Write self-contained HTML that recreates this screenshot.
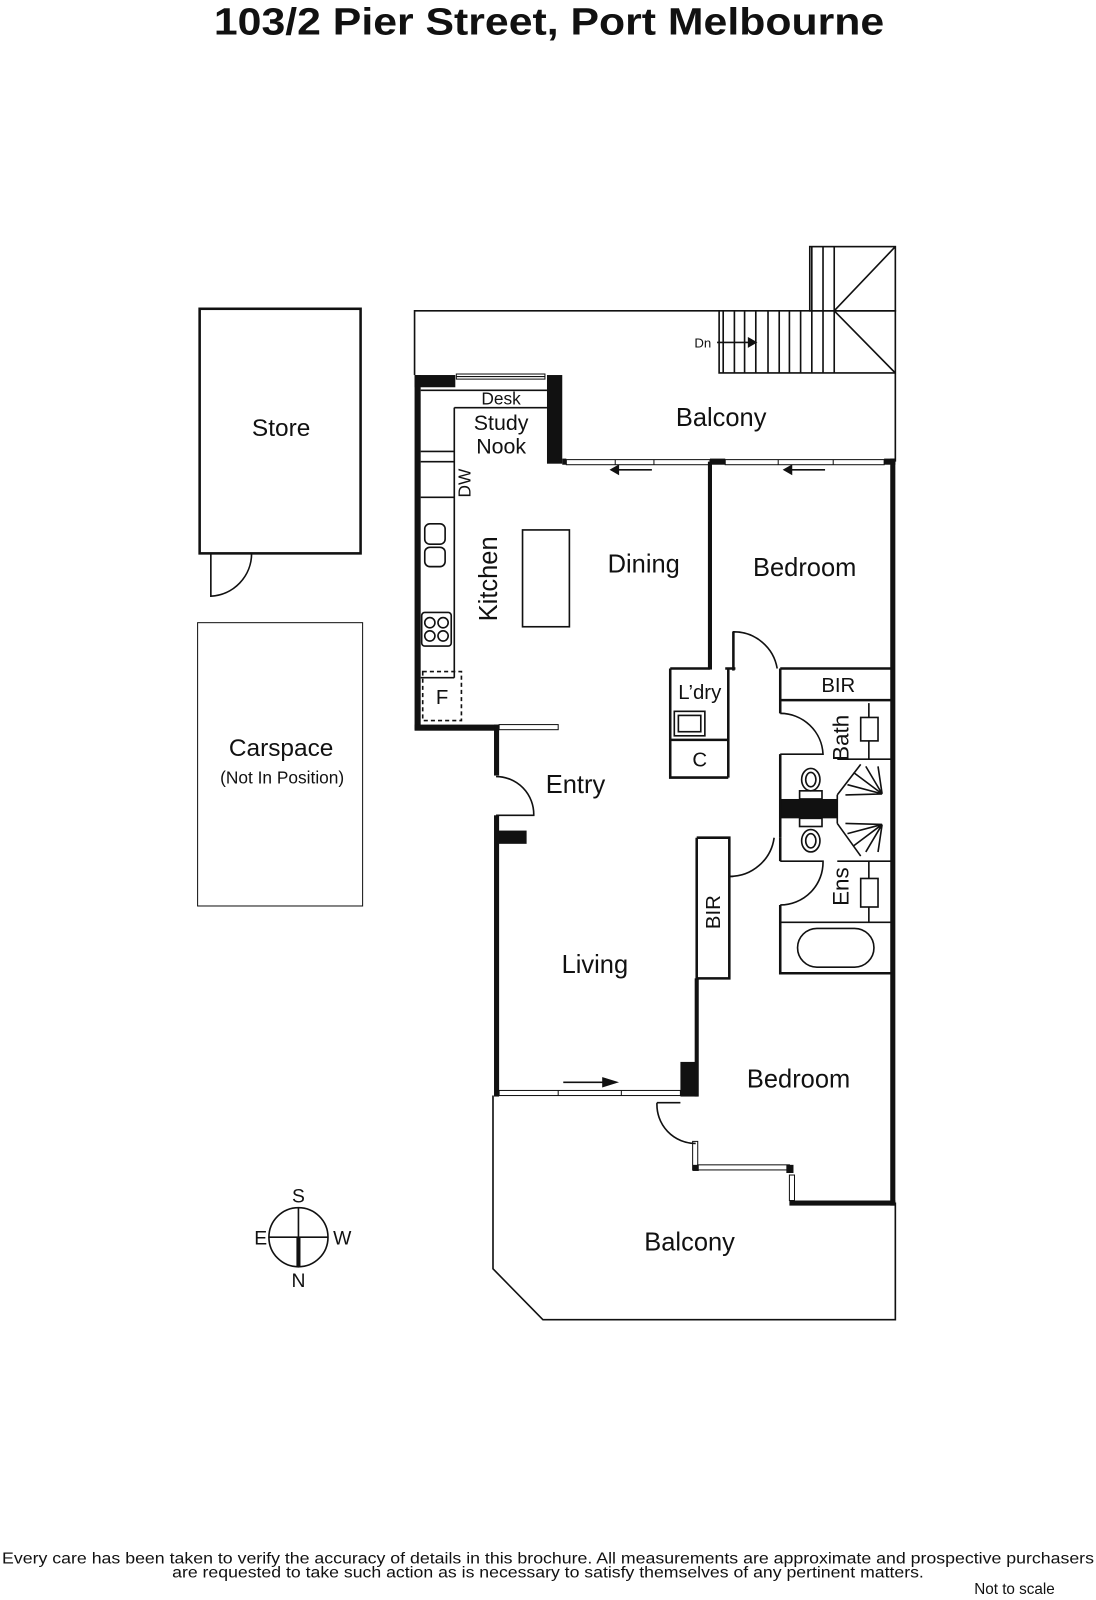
<!DOCTYPE html>
<html><head><meta charset="utf-8"><style>
html,body{margin:0;padding:0;background:#fff;}
svg{display:block;}
text{font-family:"Liberation Sans",sans-serif;fill:#111;}
</style></head><body>
<svg width="1096" height="1600" viewBox="0 0 1076 1570" preserveAspectRatio="none" xmlns="http://www.w3.org/2000/svg">
<g fill="none" stroke="#111" stroke-width="1.6">
<text x="539" y="34" font-size="37" text-anchor="middle" font-weight="bold" stroke="none" textLength="658" lengthAdjust="spacingAndGlyphs">103/2 Pier Street, Port Melbourne</text>

<!-- Store -->
<rect x="196" y="303" width="158" height="240" stroke-width="2.5"/>
<path d="M207 543 V585 A42 42 0 0 0 247 543"/>
<text x="276" y="428" font-size="24" text-anchor="middle" stroke="none">Store</text>
<!-- Carspace -->
<rect x="194" y="611" width="162" height="278" stroke-width="1"/>
<text x="276" y="742" font-size="24" text-anchor="middle" stroke="none">Carspace</text>
<text x="277" y="769" font-size="17" text-anchor="middle" stroke="none">(Not In Position)</text>

<!-- top balcony & stairs -->
<path d="M407 368 V305 H879 V453"/>
<rect x="795" y="242" width="84" height="63"/>
<path d="M706 305 V366 H879"/>
<path d="M710 305V366M721 305V366M731 305V366M742 305V366M754 305V366M765 305V366M775 305V366M786 305V366M797 242V366M808 242V366M819 242V366"/>
<path d="M819 305 L879 242 M819 305 L879 366"/>
<text x="690" y="341" font-size="13" text-anchor="middle" stroke="none">Dn</text>
<path d="M704 336 H735"/><path d="M735 332 L742 336 L735 340Z" fill="#111"/>
<text x="708" y="418" font-size="25" text-anchor="middle" stroke="none">Balcony</text>

<!-- thick walls -->
<g fill="#111" stroke="none">
<rect x="407" y="368" width="40" height="12"/>
<rect x="407" y="368" width="6" height="348"/>
<rect x="537" y="368" width="15" height="87"/>
<rect x="552" y="450" width="4" height="6"/>
<rect x="697" y="450" width="15" height="6"/>
<rect x="868" y="450" width="11" height="6"/>
<rect x="874" y="450" width="5" height="733"/>
<rect x="407" y="711" width="83" height="6"/>
<rect x="485" y="711" width="5" height="50"/>
<rect x="485" y="800" width="5" height="276"/>
<rect x="487" y="815" width="30" height="13"/>
<rect x="668" y="1042" width="17" height="34"/>
<rect x="682" y="960" width="4" height="116"/>
<rect x="775" y="1178" width="104" height="5"/>
<rect x="766" y="784" width="56" height="19"/>
<rect x="695" y="453" width="4" height="204"/>
</g>
<!-- windows -->
<g stroke-width="1"><rect x="448" y="367" width="87" height="5"/><path d="M448 369.5H535"/>
<rect x="556" y="451" width="141" height="5"/><path d="M604 451V456M642 451V456"/>
<rect x="712" y="451" width="156" height="5"/><path d="M764 451V456M818 451V456"/>
<rect x="490" y="711" width="58" height="5"/>
<rect x="490" y="1070" width="178" height="5"/><path d="M548 1070V1075M610 1070V1075"/>
<rect x="680" y="1120" width="5" height="28"/><rect x="685" y="1143" width="90" height="5"/>
<rect x="775" y="1153" width="5" height="25"/>
</g>
<path d="M600 461 H640"/><path d="M607 457 L600 461 L607 465Z" fill="#111"/>
<path d="M770 461 H810"/><path d="M777 457 L770 461 L777 465Z" fill="#111"/>
<path d="M553 1062 H598"/><path d="M592 1058 L605 1062 L592 1066Z" fill="#111"/>
<rect x="680" y="1143" width="6" height="6" fill="#111" stroke="none"/>
<rect x="772" y="1143" width="7" height="8" fill="#111" stroke="none"/>

<!-- desk & kitchen -->
<path d="M413 383 H537 M446 400 H537 M446 400 V665 M413 443 H446 M413 453 H446 M413 488 H446 M413 665 H446"/>
<text x="492" y="397" font-size="17" text-anchor="middle" stroke="none">Desk</text>
<text x="492" y="422" font-size="21" text-anchor="middle" stroke="none">Study</text>
<text x="492" y="445" font-size="21" text-anchor="middle" stroke="none">Nook</text>
<text transform="translate(462,474) rotate(-90)" font-size="17" text-anchor="middle" stroke="none">DW</text>
<rect x="417" y="514" width="20" height="20" rx="5"/><rect x="417" y="537" width="20" height="19" rx="5"/>
<rect x="414" y="601" width="29" height="33" rx="3"/>
<circle cx="422" cy="611" r="5"/><circle cx="435" cy="611" r="5"/><circle cx="422" cy="624" r="5"/><circle cx="435" cy="624" r="5"/>
<rect x="415" y="659" width="38" height="48" stroke-dasharray="4,3"/>
<text x="434" y="691" font-size="20" text-anchor="middle" stroke="none">F</text>
<text transform="translate(488,568) rotate(-90)" font-size="25" text-anchor="middle" stroke="none">Kitchen</text>
<rect x="513" y="520" width="46" height="95"/>
<text x="632" y="562" font-size="25" text-anchor="middle" stroke="none">Dining</text>
<text x="790" y="565" font-size="25" text-anchor="middle" stroke="none">Bedroom</text>

<!-- entry door -->
<path d="M487 762 A37 37 0 0 1 524 800 H487"/>
<text x="565" y="778" font-size="25" text-anchor="middle" stroke="none">Entry</text>

<!-- laundry -->
<path d="M658 656 H697 M658 656 V763 H715 M715 656 V763 M658 726 H715 M712 656 H722" stroke-width="2.5"/>
<rect x="662" y="698" width="30" height="24"/><rect x="666" y="702" width="22" height="16"/>
<text x="687" y="686" font-size="20" text-anchor="middle" stroke="none">L’dry</text>
<text x="687" y="752" font-size="20" text-anchor="middle" stroke="none">C</text>

<!-- bedroom door -->
<path d="M720 656 V620 A43 43 0 0 1 763 656" />
<path d="M720 620 V658" stroke-width="2.5"/>
<!-- BIR top -->
<path d="M766 656 H875 M766 687 H875 M766 656 V700 M766 740 V822 M766 888 V955 H875" stroke-width="2.5"/>
<text x="823" y="679" font-size="20" text-anchor="middle" stroke="none">BIR</text>
<path d="M766 700 A42 42 0 0 1 808 740 H766"/>
<text transform="translate(833,724) rotate(-90)" font-size="22" text-anchor="middle" stroke="none">Bath</text>
<rect x="845" y="704" width="17" height="23"/><path d="M853 690V704M853 727V745"/>
<path d="M822 745 H875 M822 845 H875 M822 780 L845 750 M822 808 L845 840"/>
<path d="M822 780 V808"/>
<path d="M866 779 L832 770 M866 779 L838 758 M866 779 L850 752 M866 779 L862 752 M866 779 L830 780 M866 809 L832 818 M866 809 L838 830 M866 809 L850 836 M866 809 L862 836 M866 809 L830 808"/>
<ellipse cx="796" cy="765" rx="9" ry="11"/><ellipse cx="796" cy="765" rx="5" ry="7"/><rect x="785" y="776" width="22" height="8"/>
<ellipse cx="796" cy="825" rx="9" ry="11"/><ellipse cx="796" cy="825" rx="5" ry="7"/><rect x="785" y="803" width="22" height="8"/>
<path d="M766 845 H808 A42 42 0 0 1 766 888"/>
<path d="M766 822 V845" stroke-width="2.5"/>
<text transform="translate(833,870) rotate(-90)" font-size="22" text-anchor="middle" stroke="none">Ens</text>
<rect x="845" y="862" width="17" height="28"/><path d="M853 845V862M853 890V905"/>
<path d="M766 905 H875"/>
<rect x="783" y="911" width="75" height="38" rx="19"/>
<!-- lower BIR -->
<path d="M684 822 H716 V960 H684 V822" stroke-width="2.5"/>
<path d="M716 860 A44 44 0 0 0 760 822"/><path d="M716 822 V860 H720"/>
<text transform="translate(707,895) rotate(-90)" font-size="20" text-anchor="middle" stroke="none">BIR</text>
<text x="584" y="955" font-size="25" text-anchor="middle" stroke="none">Living</text>
<text x="784" y="1067" font-size="25" text-anchor="middle" stroke="none">Bedroom</text>
<path d="M645 1082 A38 38 0 0 0 683 1122" />
<path d="M645 1082 H668"/>

<!-- bottom balcony -->
<path d="M484 1075 V1245 L533 1295 H879 V1180"/>
<text x="677" y="1227" font-size="25" text-anchor="middle" stroke="none">Balcony</text>

<!-- compass -->
<circle cx="293" cy="1214" r="29"/>
<path d="M264 1214 H322 M293 1185 V1214"/>
<path d="M293 1214 V1243" stroke-width="4"/>
<text x="293" y="1180" font-size="19" text-anchor="middle" stroke="none">S</text>
<text x="293" y="1263" font-size="19" text-anchor="middle" stroke="none">N</text>
<text x="256" y="1221" font-size="19" text-anchor="middle" stroke="none">E</text>
<text x="336" y="1221" font-size="19" text-anchor="middle" stroke="none">W</text>

<text x="538" y="1534" font-size="15" text-anchor="middle" stroke="none" textLength="1072" lengthAdjust="spacingAndGlyphs">Every care has been taken to verify the accuracy of details in this brochure.  All measurements are approximate and prospective purchasers</text>
<text x="538" y="1548" font-size="15" text-anchor="middle" stroke="none" textLength="738" lengthAdjust="spacingAndGlyphs">are requested to take such action as is necessary to satisfy themselves of any pertinent matters.</text>
<text x="996" y="1564" font-size="15" text-anchor="middle" stroke="none">Not to scale</text>
</g>
</svg>
</body></html>
